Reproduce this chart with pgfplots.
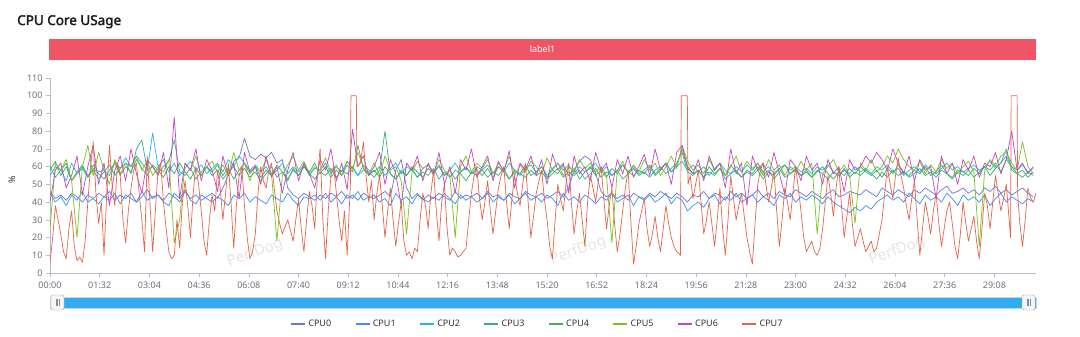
\documentclass[border=0pt]{standalone}
\usepackage{fontspec}
\setmainfont{Noto Sans}[AutoFakeBold=2.2]
\usepackage{pgfplots}
\usepackage{pgfplotstable}
\pgfplotsset{compat=1.18}
\definecolor{cz}{HTML}{6C75D8}
\definecolor{ca}{HTML}{3D8EF8}
\definecolor{cb}{HTML}{1FB6EA}
\definecolor{cc}{HTML}{3CAB8C}
\definecolor{cd}{HTML}{3DB24D}
\definecolor{ce}{HTML}{77C31A}
\definecolor{cf}{HTML}{C545C2}
\definecolor{cg}{HTML}{E4644A}
\definecolor{banner}{HTML}{EE5565}
\definecolor{tickgray}{HTML}{6E7079}
\definecolor{axgray}{HTML}{B8BCC8}
\definecolor{slider}{HTML}{33ABF0}

\pgfplotstableread[header=false,row sep=\\]{46\\42\\44\\41\\45\\43\\40\\44\\42\\45\\43\\46\\41\\44\\42\\45\\40\\43\\47\\42\\44\\41\\45\\43\\40\\46\\42\\44\\41\\43\\45\\42\\48\\55\\63\\65\\76\\66\\64\\67\\65\\68\\62\\64\\48\\44\\42\\45\\43\\41\\44\\42\\45\\43\\46\\42\\44\\41\\45\\43\\42\\44\\46\\43\\58\\64\\48\\42\\45\\41\\44\\42\\45\\43\\41\\46\\42\\44\\43\\45\\42\\46\\43\\44\\41\\45\\43\\42\\46\\44\\43\\45\\42\\44\\46\\43\\48\\58\\63\\66\\64\\56\\46\\43\\45\\42\\44\\41\\45\\43\\42\\45\\43\\46\\44\\42\\45\\43\\40\\44\\43\\46\\42\\45\\44\\41\\46\\43\\45\\42\\44\\47\\43\\45\\42\\46\\44\\43\\47\\45\\43\\46\\44\\42\\45\\47\\43\\44\\46\\45\\44\\47\\45\\43\\48\\46\\44\\47\\45\\43\\47\\45\\48\\46\\44\\47\\49\\45\\46\\48\\45\\47\\44\\48\\46\\49\\45\\47\\44\\46\\48\\45\\43\\}\tz
\pgfplotstableread[header=false,row sep=\\]{45\\40\\43\\38\\44\\41\\46\\40\\42\\39\\43\\41\\45\\39\\44\\42\\40\\46\\41\\43\\44\\40\\38\\45\\42\\47\\41\\39\\44\\42\\40\\43\\41\\38\\44\\42\\45\\40\\43\\41\\39\\44\\42\\40\\45\\41\\38\\43\\42\\44\\41\\45\\40\\43\\39\\44\\42\\46\\41\\43\\44\\40\\42\\38\\45\\41\\43\\39\\44\\42\\40\\43\\41\\45\\42\\39\\44\\41\\43\\40\\42\\45\\40\\43\\41\\44\\39\\42\\45\\41\\43\\40\\44\\42\\38\\45\\41\\43\\40\\44\\42\\39\\43\\41\\45\\40\\42\\44\\38\\43\\41\\44\\40\\42\\45\\39\\43\\41\\35\\38\\40\\37\\42\\44\\39\\43\\41\\45\\40\\42\\44\\40\\43\\41\\38\\44\\42\\45\\40\\43\\41\\44\\42\\39\\43\\40\\38\\36\\34\\37\\35\\38\\36\\40\\42\\44\\41\\43\\40\\45\\42\\39\\44\\41\\43\\40\\45\\42\\38\\44\\41\\43\\40\\44\\38\\42\\45\\40\\43\\41\\39\\42\\40\\}\ta
\pgfplotstableread[header=false,row sep=\\]{55\\60\\58\\52\\62\\56\\59\\54\\61\\57\\58\\55\\63\\59\\65\\60\\66\\62\\58\\79\\60\\64\\57\\62\\55\\59\\63\\58\\61\\56\\59\\62\\57\\64\\60\\66\\62\\58\\61\\57\\60\\55\\58\\62\\56\\60\\57\\61\\55\\59\\58\\62\\56\\60\\57\\63\\59\\55\\61\\58\\57\\60\\55\\59\\62\\56\\60\\58\\54\\59\\61\\57\\60\\55\\58\\62\\57\\59\\56\\60\\58\\61\\56\\60\\57\\62\\58\\55\\59\\61\\57\\60\\55\\59\\62\\58\\61\\56\\60\\57\\59\\62\\57\\60\\55\\58\\61\\57\\60\\56\\58\\61\\56\\59\\62\\57\\60\\63\\58\\61\\57\\60\\55\\59\\62\\58\\56\\60\\57\\61\\58\\62\\57\\60\\56\\59\\61\\58\\60\\57\\59\\56\\60\\58\\61\\57\\55\\58\\56\\60\\57\\59\\56\\60\\58\\61\\57\\59\\55\\58\\60\\57\\61\\58\\56\\59\\62\\58\\60\\57\\59\\61\\58\\60\\63\\59\\62\\66\\60\\58\\61\\57\\59\\}\tb
\pgfplotstableread[header=false,row sep=\\]{60\\54\\58\\62\\52\\56\\60\\55\\58\\53\\57\\61\\55\\59\\62\\56\\70\\75\\58\\60\\56\\60\\63\\75\\57\\55\\59\\53\\57\\60\\55\\58\\53\\57\\60\\55\\59\\54\\57\\52\\56\\60\\54\\57\\53\\58\\55\\60\\56\\53\\57\\55\\59\\54\\58\\56\\60\\55\\58\\57\\54\\58\\80\\56\\53\\57\\55\\59\\54\\57\\55\\59\\53\\57\\54\\58\\56\\52\\57\\55\\58\\54\\57\\55\\59\\53\\57\\56\\54\\58\\55\\57\\53\\56\\59\\54\\57\\55\\58\\53\\56\\59\\54\\57\\55\\58\\53\\56\\59\\55\\57\\54\\58\\60\\56\\59\\62\\68\\57\\55\\58\\54\\57\\55\\59\\53\\56\\58\\54\\57\\55\\58\\53\\57\\55\\59\\54\\56\\58\\55\\57\\54\\58\\56\\53\\57\\55\\59\\54\\57\\55\\58\\56\\53\\57\\54\\58\\55\\57\\54\\56\\59\\55\\57\\54\\58\\56\\53\\57\\55\\58\\54\\57\\60\\55\\59\\62\\70\\58\\56\\54\\57\\55\\}\tc
\pgfplotstableread[header=false,row sep=\\]{58\\63\\55\\60\\52\\57\\61\\54\\59\\56\\53\\58\\62\\55\\60\\57\\64\\59\\55\\61\\58\\54\\60\\56\\62\\57\\53\\59\\55\\60\\57\\61\\55\\59\\53\\58\\62\\56\\60\\54\\58\\55\\61\\57\\52\\59\\55\\60\\57\\62\\56\\60\\54\\58\\55\\61\\57\\72\\59\\55\\58\\54\\60\\56\\53\\58\\55\\60\\57\\54\\59\\56\\61\\55\\58\\53\\57\\60\\56\\58\\55\\59\\54\\60\\57\\53\\58\\56\\61\\55\\57\\60\\54\\58\\56\\61\\55\\59\\53\\57\\60\\55\\58\\54\\59\\56\\61\\57\\55\\58\\56\\60\\55\\58\\62\\57\\61\\70\\59\\56\\58\\54\\60\\56\\59\\55\\61\\57\\54\\58\\56\\60\\55\\58\\53\\57\\61\\56\\59\\55\\58\\54\\57\\60\\56\\53\\57\\55\\59\\56\\60\\57\\55\\58\\54\\59\\56\\61\\57\\55\\58\\56\\60\\55\\57\\61\\56\\54\\58\\57\\55\\59\\56\\60\\58\\62\\57\\64\\60\\56\\58\\54\\57\\}\td
\pgfplotstableread[header=false,row sep=\\]{25\\62\\58\\64\\52\\20\\60\\72\\55\\68\\58\\50\\64\\56\\62\\60\\66\\58\\63\\55\\60\\57\\64\\17\\30\\62\\58\\66\\55\\60\\63\\57\\61\\55\\68\\58\\62\\52\\60\\57\\64\\56\\18\\55\\61\\66\\58\\63\\56\\60\\58\\65\\57\\61\\55\\63\\59\\68\\60\\56\\62\\55\\66\\58\\60\\52\\22\\57\\63\\59\\61\\56\\64\\58\\55\\20\\60\\66\\57\\62\\59\\64\\56\\62\\58\\66\\55\\61\\57\\63\\60\\56\\65\\58\\62\\55\\60\\57\\64\\59\\62\\57\\60\\55\\17\\58\\63\\56\\61\\57\\64\\58\\62\\55\\60\\66\\59\\72\\63\\58\\61\\56\\64\\58\\62\\55\\60\\66\\57\\63\\59\\62\\56\\64\\58\\61\\55\\60\\57\\63\\58\\62\\22\\56\\60\\64\\57\\61\\55\\28\\62\\58\\64\\57\\60\\66\\62\\70\\64\\60\\58\\63\\56\\61\\57\\64\\59\\62\\56\\60\\63\\57\\15\\58\\64\\60\\66\\68\\62\\58\\74\\60\\56\\}\te
\pgfplotstableread[header=false,row sep=\\]{40\\58\\62\\48\\55\\66\\44\\60\\72\\50\\62\\38\\58\\66\\52\\70\\56\\45\\64\\60\\55\\68\\48\\88\\42\\62\\58\\70\\52\\64\\58\\46\\66\\55\\62\\42\\68\\57\\60\\50\\66\\54\\60\\45\\58\\68\\52\\62\\56\\48\\64\\58\\70\\52\\62\\47\\81\\60\\66\\55\\60\\68\\50\\64\\56\\38\\62\\58\\66\\52\\62\\55\\68\\50\\60\\45\\64\\58\\70\\54\\60\\66\\52\\63\\57\\69\\48\\62\\58\\66\\55\\64\\50\\67\\58\\62\\45\\66\\56\\60\\52\\68\\58\\62\\48\\64\\56\\66\\54\\60\\67\\55\\70\\58\\62\\50\\68\\72\\60\\56\\64\\52\\66\\58\\62\\48\\70\\56\\62\\38\\66\\58\\62\\54\\68\\56\\44\\64\\60\\52\\66\\58\\62\\50\\64\\56\\60\\46\\64\\58\\60\\66\\62\\68\\64\\58\\70\\62\\56\\66\\52\\64\\58\\60\\42\\66\\56\\62\\50\\64\\58\\66\\54\\62\\60\\68\\56\\64\\80\\58\\62\\56\\60\\}\tf
\pgfplotstableread[header=false,row sep=\\]{0 6\\5 20\\10 38\\15 30\\20 22\\25 12\\30 8\\35 25\\40 35\\45 15\\50 7\\55 9\\60 6\\65 18\\70 40\\75 60\\80 74\\85 45\\90 28\\95 40\\100 10\\105 45\\110 72\\115 50\\120 38\\125 62\\130 55\\135 30\\140 17\\145 35\\150 48\\155 58\\160 62\\165 45\\170 30\\175 12\\180 66\\185 40\\190 12\\195 35\\200 58\\205 62\\210 40\\215 25\\220 12\\225 8\\230 10\\235 30\\240 14\\245 40\\250 52\\255 38\\260 20\\265 45\\270 60\\275 50\\280 35\\285 18\\290 10\\295 30\\300 44\\305 35\\310 58\\315 48\\320 30\\325 45\\330 62\\335 40\\340 14\\345 38\\350 55\\355 60\\360 38\\365 20\\370 8\\375 12\\380 22\\385 45\\390 60\\395 52\\400 48\\405 58\\410 62\\415 48\\420 35\\425 28\\430 22\\435 26\\440 30\\445 24\\450 18\\455 30\\460 42\\465 25\\470 12\\475 30\\480 46\\485 38\\490 25\\495 55\\500 70\\505 30\\510 8\\515 35\\520 55\\525 60\\530 45\\535 30\\540 18\\545 35\\550 10\\556 50\\557 100\\567 100\\568 60\\575 62\\580 74\\585 55\\590 40\\595 52\\600 30\\605 45\\610 55\\615 38\\620 20\\625 35\\630 48\\635 30\\640 15\\645 28\\650 40\\655 18\\660 10\\665 12\\670 8\\675 14\\680 12\\685 30\\690 45\\695 38\\700 25\\705 45\\710 58\\715 35\\720 18\\725 40\\730 50\\735 25\\740 10\\745 14\\750 12\\755 9\\760 10\\765 12\\770 14\\775 30\\780 45\\785 55\\790 60\\795 42\\800 30\\805 40\\810 52\\815 35\\820 22\\825 35\\830 48\\835 55\\840 60\\845 40\\850 25\\855 42\\860 55\\865 45\\870 38\\875 50\\880 62\\885 40\\890 20\\895 32\\900 45\\905 52\\910 58\\915 42\\920 30\\925 15\\930 8\\935 30\\940 50\\945 42\\950 35\\955 50\\960 62\\965 40\\970 22\\975 35\\980 45\\985 30\\990 15\\995 40\\1000 55\\1005 48\\1010 40\\1015 52\\1020 60\\1025 42\\1030 25\\1035 38\\1040 48\\1045 28\\1050 12\\1055 22\\1060 35\\1065 48\\1070 58\\1075 30\\1080 5\\1085 15\\1090 28\\1095 35\\1100 42\\1105 25\\1110 15\\1115 22\\1120 32\\1125 20\\1130 12\\1135 25\\1140 38\\1145 28\\1150 20\\1155 15\\1160 12\\1167 10\\1168.4 100\\1179.6 100\\1181 50\\1185 55\\1190 42\\1195 50\\1200 58\\1205 40\\1210 22\\1215 30\\1220 40\\1225 28\\1230 15\\1235 30\\1240 48\\1245 25\\1250 10\\1255 30\\1260 55\\1265 42\\1270 30\\1275 38\\1280 45\\1285 32\\1290 20\\1295 12\\1300 5\\1305 28\\1310 50\\1315 58\\1320 62\\1325 50\\1330 40\\1335 48\\1340 58\\1345 35\\1350 15\\1355 30\\1360 48\\1365 40\\1370 30\\1375 45\\1380 60\\1385 48\\1390 35\\1395 20\\1400 12\\1405 15\\1410 18\\1415 12\\1420 10\\1425 14\\1430 25\\1435 40\\1440 55\\1445 45\\1450 32\\1455 48\\1460 60\\1465 38\\1470 20\\1475 32\\1480 45\\1485 28\\1490 15\\1495 20\\1500 25\\1505 18\\1510 12\\1515 15\\1520 18\\1525 12\\1530 14\\1535 22\\1540 30\\1545 45\\1550 60\\1555 50\\1560 42\\1565 55\\1570 65\\1575 55\\1580 48\\1585 38\\1590 30\\1595 42\\1600 52\\1605 30\\1610 10\\1615 25\\1620 40\\1625 32\\1630 22\\1635 35\\1640 45\\1645 28\\1650 15\\1655 25\\1660 35\\1665 40\\1670 28\\1675 15\\1680 8\\1685 22\\1690 40\\1695 28\\1700 18\\1705 25\\1710 32\\1715 18\\1720 8\\1725 25\\1730 45\\1735 38\\1740 25\\1745 40\\1750 55\\1755 45\\1760 35\\1765 42\\1770 50\\1778 20\\1779 100\\1790 100\\1791 45\\1795 28\\1800 15\\1805 30\\1810 48\\1815 42\\1820 40\\1825 45\\}\tg

\begin{document}
\begin{tikzpicture}[x=1pt,y=1pt]
\useasboundingbox (0pt,0pt) rectangle (1080pt,337pt);
\fill[white] (0pt,0pt) rectangle (1080pt,337pt);
% title
\node[anchor=base west,inner sep=0,font=\bfseries\fontsize{13.5}{15}\selectfont,text=black!90] at (17pt,312pt) {CPU Core USage};
% banner
\fill[banner] (49pt,277pt) rectangle (1036pt,298pt);
\node[text=white,font=\fontsize{9}{10}\selectfont] at (542.5pt,287.5pt) {label1};
% y label
\node[rotate=90,font=\fontsize{9}{10}\selectfont,text=black!80] at (12pt,157pt) {\%};
% watermarks
\foreach \px/\py in {255/84,578/86,897/86}{
  \node[rotate=20,text=black!10,font=\fontsize{15}{16}\selectfont] at (\px pt,\py pt) {PerfDog};
}
\begin{axis}[
  at={(50pt,64pt)}, anchor=south west,
  scale only axis, width=986pt, height=195pt,
  xmin=0, xmax=1825, ymin=0, ymax=110,
  axis x line*=bottom, axis y line*=left,
  axis line style={axgray, line width=0.6pt},
  tick align=outside, major tick length=4pt,
  every tick/.style={axgray, line width=0.6pt},
  xtick={0,92,184,276,368,460,552,644,736,828,920,1012,1104,1196,1288,1380,1472,1564,1656,1748},
  xticklabels={00:00,01:32,03:04,04:36,06:08,07:40,09:12,10:44,12:16,13:48,15:20,16:52,18:24,19:56,21:28,23:00,24:32,26:04,27:36,29:08},
  ytick={0,10,...,110},
  /pgf/number format/assume math mode=true,
  tick label style={font=\fontsize{9}{10}\selectfont, text=tickgray},
  xticklabel style={yshift=-1pt},
  legend columns=8,
  legend style={at={(0.494,-0.262)}, anchor=center, draw=none, fill=none,
    font=\fontsize{9}{10}\selectfont, text=black!80,
    /tikz/every even column/.append style={column sep=21pt}},
  legend image code/.code={\draw[line width=2.6pt] (0pt,0pt) -- (14pt,0pt);},
  every axis plot/.append style={line width=0.7pt, line join=round},
]
\addplot[cz] table[x expr=\coordindex*10, y index=0]{\tz};
\addlegendentry{CPU0}
\addplot[ca] table[x expr=\coordindex*10, y index=0]{\ta};
\addlegendentry{CPU1}
\addplot[cb] table[x expr=\coordindex*10, y index=0]{\tb};
\addlegendentry{CPU2}
\addplot[cc] table[x expr=\coordindex*10, y index=0]{\tc};
\addlegendentry{CPU3}
\addplot[cd] table[x expr=\coordindex*10, y index=0]{\td};
\addlegendentry{CPU4}
\addplot[ce] table[x expr=\coordindex*10, y index=0]{\te};
\addlegendentry{CPU5}
\addplot[cf] table[x expr=\coordindex*10, y index=0]{\tf};
\addlegendentry{CPU6}
\addplot[cg] table[x index=0, y index=1]{\tg};
\addlegendentry{CPU7}
\end{axis}
% slider
\fill[slider] (50pt,29pt) rectangle (1036pt,40pt);
\draw[axgray!70] (50pt,29pt) rectangle (1036pt,40pt);
\foreach \hx in {51,1022}{
  \draw[black!35, fill=black!4, rounded corners=1.5pt] (\hx pt,27pt) rectangle (\hx pt+13pt,42pt);
  \draw[black!45, line width=0.4pt] (\hx pt+5pt,31pt) -- (\hx pt+5pt,38pt) (\hx pt+6.5pt,31pt) -- (\hx pt+6.5pt,38pt) (\hx pt+8pt,31pt) -- (\hx pt+8pt,38pt);
}
\end{tikzpicture}
\end{document}
